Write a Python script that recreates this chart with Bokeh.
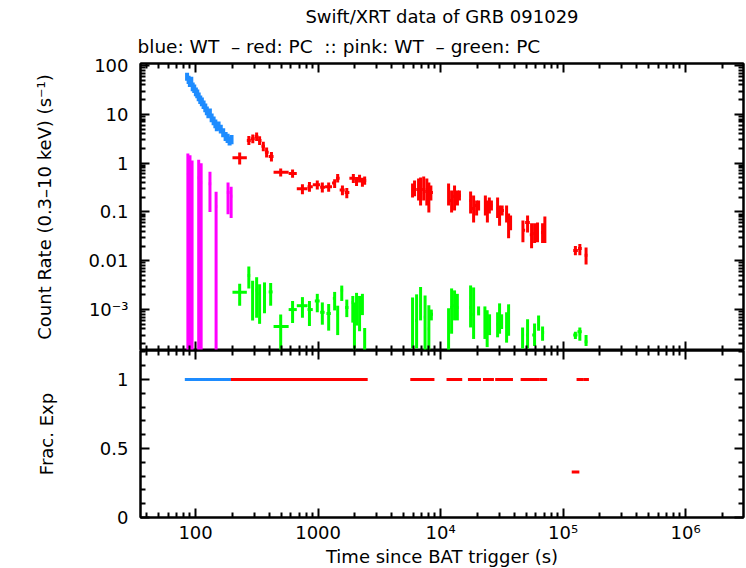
from bokeh.plotting import figure
from bokeh.models import (ColumnDataSource, Range1d, LogAxis, LinearAxis, Title,
                          CustomJSTickFormatter, FixedTicker)
from bokeh.layouts import column
from bokeh.embed import file_html
from bokeh.resources import INLINE

FONT = "DejaVu Sans"
FS = "18px"

# ---------------- WT mode (blue): bin start, bin stop, time, rate, rate error
wt_start = [84, 86.5, 88.5, 91, 93.5, 96, 99, 102, 104.5, 107.5, 111, 114, 118.5, 121.5,
            125.5, 129, 132.5, 138, 143, 147, 151, 157, 164, 172.5, 179, 186, 193]
wt_stop = [86.5, 88.5, 91, 93.5, 96, 99, 102, 104.5, 107.5, 111, 114, 118.5, 121.5, 125.5,
           129, 132.5, 138, 143, 147, 151, 157, 164, 172.5, 179, 186, 193, 200]
wt_time = [85.2, 87.7, 89.8, 92.2, 94.7, 97.5, 100.5, 103.2, 106.0, 109.2, 112.5, 116.2,
           120.0, 123.5, 127.2, 130.8, 135.2, 140.3, 145.0, 149.0, 154.0, 160.5, 168.0,
           175.8, 182.5, 189.5, 196.5]
wt_rate = [59.8, 51.9, 45.1, 49.5, 37.3, 34.0, 29.5, 26.8, 23.3, 20.2, 18.4, 16.0, 13.8,
           12.0, 10.4, 10.9, 8.6, 7.5, 6.5, 5.65, 5.9, 5.1, 4.3, 3.6, 3.3, 2.9, 3.1]
wt_err = [11.0, 10.0, 9.0, 9.5, 7.5, 6.8, 6.0, 5.4, 4.7, 4.0, 3.7, 3.2, 2.8, 2.4, 2.1, 2.2,
          1.75, 1.5, 1.3, 1.15, 1.2, 1.05, 0.9, 0.75, 0.7, 0.6, 0.65]
wt_frac = [1.0] * 27

# ---------------- WT mode, second band (pink)
pk_start = [85, 88.5, 92, 104, 109, 128, 144, 180, 191]
pk_stop = [88.5, 92, 95, 108, 113, 134, 150, 189, 199]
pk_time = [86.5, 90.0, 93.6, 106.0, 111.0, 131.0, 147.0, 184.0, 195.0]
pk_rate = [0.60, 0.50, 0.56, 0.50, 0.40, 0.38, 0.13, 0.25, 0.21]
pk_low = [0.0, 0.0, 0.0, 0.0, 0.0, 0.10, 0.0, 0.09, 0.075]
pk_high = [1.58, 1.45, 1.13, 1.17, 1.00, 0.67, 0.26, 0.40, 0.33]

# ---------------- PC mode (red): bin start, stop, time, rate, lower, upper, fractional exposure
pc_start = [200, 262, 282, 304, 325, 345, 368, 395, 433, 575, 670, 820, 905, 1040, 1140,
            1300, 1400, 1500, 1650, 1800, 2000, 2120, 2240, 2350,
            5820, 6020, 6370, 6740, 7070, 7500, 7870, 8170,
            11500, 11950, 12650, 13350, 14000,
            17200, 18000, 19100, 20000,
            22800, 23650, 24550, 25500,
            28700, 29750, 30900,
            34000, 35200, 36500,
            46300, 49000, 53500, 57000, 60500, 66000, 69500,
            121000, 132500, 150000]
pc_stop = [262, 282, 304, 325, 345, 368, 395, 433, 575, 670, 820, 905, 1040, 1140, 1300,
           1400, 1500, 1650, 1800, 2000, 2120, 2240, 2350, 2470,
           6020, 6370, 6740, 7070, 7500, 7870, 8170, 8660,
           11950, 12650, 13350, 14000, 14600,
           18000, 19100, 20000, 20800,
           23650, 24550, 25500, 26500,
           29750, 30900, 32900,
           35200, 36500, 37900,
           49000, 53500, 56000, 60500, 62700, 69500, 72000,
           132000, 142000, 158000]
pc_time = [229, 272, 293, 315, 333, 357, 380, 416, 495, 619, 745, 850, 985, 1083, 1220,
           1365, 1445, 1580, 1715, 1940, 2060, 2180, 2300, 2400,
           5904, 6131, 6610, 6865, 7280, 7720, 8020, 8330,
           11620, 12300, 13000, 13730, 14250,
           17580, 18600, 19680, 20430,
           23200, 24100, 25000, 26000,
           29200, 30300, 31800,
           34580, 35900, 37270,
           47000, 51300, 55300, 58500, 61800, 68000, 71000,
           126000, 137000, 154000]
pc_rate = [1.29, 2.92, 3.16, 3.52, 2.92, 2.23, 1.68, 1.37, 0.65, 0.61, 0.30, 0.33, 0.36,
           0.32, 0.33, 0.39, 0.49, 0.28, 0.25, 0.49, 0.43, 0.49, 0.41, 0.44,
           0.275, 0.289, 0.289, 0.251, 0.289, 0.263, 0.198, 0.251,
           0.228, 0.172, 0.208, 0.198, 0.218,
           0.172, 0.118, 0.136, 0.136,
           0.149, 0.107, 0.136, 0.136,
           0.118, 0.093, 0.107,
           0.093, 0.061, 0.061,
           0.042, 0.061, 0.034, 0.036, 0.038, 0.038, 0.046,
           0.0162, 0.0178, 0.0129]
pc_low = [0.94, 2.35, 2.55, 2.85, 2.35, 1.75, 1.30, 1.08, 0.53, 0.50, 0.23, 0.26, 0.29,
          0.25, 0.26, 0.31, 0.40, 0.22, 0.19, 0.39, 0.34, 0.40, 0.33, 0.36,
          0.198, 0.209, 0.172, 0.136, 0.172, 0.136, 0.098, 0.172,
          0.136, 0.098, 0.107, 0.136, 0.172,
          0.093, 0.061, 0.085, 0.107,
          0.085, 0.061, 0.093, 0.107,
          0.075, 0.052, 0.085,
          0.061, 0.029, 0.042,
          0.024, 0.038, 0.018, 0.023, 0.024, 0.023, 0.023,
          0.0130, 0.0130, 0.0084]
pc_high = [1.66, 3.60, 3.85, 4.25, 3.55, 2.75, 2.10, 1.70, 0.78, 0.74, 0.37, 0.41, 0.44,
           0.40, 0.40, 0.47, 0.60, 0.35, 0.31, 0.60, 0.52, 0.58, 0.50, 0.53,
           0.383, 0.44, 0.486, 0.509, 0.534, 0.486, 0.40, 0.349,
           0.383, 0.275, 0.349, 0.275, 0.275,
           0.263, 0.218, 0.172, 0.172,
           0.218, 0.172, 0.198, 0.172,
           0.198, 0.136, 0.136,
           0.136, 0.093, 0.085,
           0.067, 0.085, 0.059, 0.059, 0.061, 0.059, 0.081,
           0.0200, 0.0220, 0.0186]
pc_frac = [1.0] * 58 + [0.33, 1.0, 1.0]

# ---------------- PC mode, second band (green)
gr_start = [200, 266, 287, 309, 327, 355, 395, 433, 575, 670, 820, 940, 1040, 1170, 1320,
            1420, 1530, 1660, 1880, 1960, 2030, 2150, 2270, 2370,
            5820, 6200, 6740, 7300, 7870, 8170,
            11500, 12000, 12700, 13400,
            17200, 18200, 20000,
            22800, 23700, 24800,
            28700, 29800, 31000,
            34000, 35400,
            46300, 50000, 56000, 62000, 67000,
            121000, 131000, 150000]
gr_stop = [262, 279, 298, 321, 340, 376, 425, 575, 670, 820, 905, 1030, 1130, 1270, 1400,
           1470, 1600, 1770, 1960, 2000, 2090, 2210, 2330, 2430,
           6020, 6500, 7000, 7600, 8170, 8660,
           11800, 12600, 13300, 14000,
           18000, 19000, 20800,
           23300, 24300, 25400,
           29700, 30800, 32000,
           35200, 36500,
           48000, 52500, 60000, 64000, 70000,
           131000, 142000, 158000]
gr_time = [229, 272, 292, 315, 333, 365, 410, 495, 619, 745, 850, 985, 1083, 1220, 1365,
           1445, 1560, 1715, 1920, 1980, 2060, 2180, 2300, 2400,
           5904, 6370, 6865, 7470, 8020, 8400,
           11620, 12300, 13000, 13700,
           17580, 18600, 20430,
           23000, 24000, 25100,
           29200, 30300, 31500,
           34580, 35900,
           46700, 51300, 58500, 63100, 68000,
           126000, 137000, 154000]
gr_rate = [0.00227, 0.0050, 0.0023, 0.0025, 0.0021, 0.0022, 0.0023, 0.00045, 0.0010,
           0.0012, 0.0010, 0.0015, 0.00088, 0.00083, 0.0017, 0.00077, 0.0025, 0.0011,
           0.0014, 0.00054, 0.0013, 0.0011, 0.0014, 0.00021,
           0.00055, 0.0006, 0.0012, 0.0007, 0.0004, 0.0008,
           0.0004, 0.0011, 0.0012, 0.0011,
           0.0011, 0.0008, 0.0009,
           0.0006, 0.0004, 0.0005,
           0.0005, 0.0007, 0.0006,
           0.00045, 0.0007,
           0.0003, 0.0003, 0.0003, 0.0005, 0.00034,
           0.0003, 0.00035, 0.00022]
gr_low = [0.0012, 0.0027, 0.0006, 0.00068, 0.00051, 0.00084, 0.0012, 0.0, 0.00053,
          0.00068, 0.00046, 0.00088, 0.00049, 0.00037, 0.00096, 0.0003, 0.0015, 0.0007,
          0.00054, 0.0, 0.00047, 0.00036, 0.00077, 0.0,
          0.00016, 0.00016, 0.0006, 0.0, 0.0, 0.0006,
          0.0, 0.00032, 0.0006, 0.0006,
          0.00043, 0.00025, 0.00076,
          0.00025, 0.00017, 0.0003,
          0.00027, 0.00032, 0.0004,
          0.00021, 0.00029,
          0.00016, 0.00016, 0.00018, 0.00037, 0.00023,
          0.00025, 0.00023, 0.00018]
gr_high = [0.0034, 0.0076, 0.0039, 0.0046, 0.0033, 0.0036, 0.0035, 0.00079, 0.0015,
           0.0018, 0.0015, 0.0021, 0.0014, 0.0013, 0.0023, 0.0012, 0.0031, 0.0016,
           0.0019, 0.0014, 0.0022, 0.0019, 0.0021, 0.00042,
           0.00177, 0.00205, 0.0029, 0.00195, 0.00122, 0.0010,
           0.00106, 0.00271, 0.00247, 0.0021,
           0.00312, 0.00284, 0.00116,
           0.00116, 0.00097, 0.0008,
           0.00088, 0.00134, 0.0008,
           0.00088, 0.00128,
           0.00043, 0.00063, 0.00052, 0.00076, 0.00045,
           0.00035, 0.00043, 0.0003]

# ---------------- axis ticks
x_major = [100, 1000, 1e4, 1e5, 1e6]
x_minor = [m * 10 ** e for e in range(1, 7) for m in range(2, 10)]
y_major = [1e-3, 1e-2, 0.1, 1, 10, 100]
y_minor = [m * 10 ** e for e in range(-4, 3) for m in range(2, 10)]
f_major = [0, 0.5, 1]
f_minor = [0.1, 0.2, 0.3, 0.4, 0.6, 0.7, 0.8, 0.9, 1.1, 1.2]

X_LO, X_HI = 35.5, 2.97e6
TINY = 1e-9

x_fmt = CustomJSTickFormatter(code="""
const e = Math.round(Math.log10(tick));
if (e <= 3) { return String(Math.round(tick)); }
const sup = {4: '\\u2074', 5: '\\u2075', 6: '\\u2076'};
return '10' + sup[e];
""")
y_fmt = CustomJSTickFormatter(code="""
const e = Math.round(Math.log10(tick));
if (e >= 0) { return String(Math.round(tick)); }
if (e >= -2) { return tick.toFixed(-e); }
const sup = {3: '\\u00b3', 4: '\\u2074'};
return '10\\u207b' + sup[-e];
""")
blank_fmt = CustomJSTickFormatter(code="return '';")


def style_axis(ax, show_labels):
    ax.axis_line_width = 2
    ax.axis_line_color = "black"
    ax.major_tick_in = 9
    ax.major_tick_out = 0
    ax.minor_tick_in = 5
    ax.minor_tick_out = 0
    ax.major_tick_line_width = 2
    ax.minor_tick_line_width = 2
    ax.major_label_text_font = FONT
    ax.major_label_text_font_size = FS
    ax.major_label_text_color = "black"
    ax.axis_label_text_font = FONT
    ax.axis_label_text_font_size = FS
    ax.axis_label_text_font_style = "normal"
    ax.axis_label_text_color = "black"
    if not show_labels:
        ax.formatter = blank_fmt
        ax.major_label_text_font_size = "0px"
        ax.major_label_standoff = 0


def errbars(p, start, stop, time, rate, low, high, color, width=3):
    src = ColumnDataSource(dict(
        t0=start, t1=stop, t=time, r=rate,
        r0=[max(v, TINY) for v in low], r1=high))
    p.segment(x0="t0", y0="r", x1="t1", y1="r", source=src,
              line_color=color, line_width=width)
    p.segment(x0="t", y0="r0", x1="t", y1="r1", source=src,
              line_color=color, line_width=width)


x_range = Range1d(X_LO, X_HI)

# ---------------- light curve panel
top = figure(x_axis_type="log", y_axis_type="log", x_range=x_range,
             y_range=Range1d(1.45e-4, 110), x_axis_location=None,
             frame_width=603, frame_height=287,
             min_border_left=140, min_border_right=3, min_border_top=63,
             min_border_bottom=0, output_backend="svg", toolbar_location=None,
             background_fill_color="white", border_fill_color="white")
top.grid.visible = False
top.outline_line_color = "black"
top.outline_line_width = 2

ly = top.yaxis[0]
ly.ticker = FixedTicker(ticks=y_major, minor_ticks=y_minor)
ly.formatter = y_fmt
style_axis(ly, True)
ly.major_label_standoff = 12
ly.axis_label = "Count Rate (0.3\u201310 keV) (s\u207b\u00b9)"
ly.axis_label_standoff = 30

for loc in ("above", "below"):
    ax = LogAxis(ticker=FixedTicker(ticks=x_major, minor_ticks=x_minor))
    style_axis(ax, False)
    top.add_layout(ax, loc)
ry = LogAxis(ticker=FixedTicker(ticks=y_major, minor_ticks=y_minor))
style_axis(ry, False)
top.add_layout(ry, "right")

errbars(top, pk_start, pk_stop, pk_time, pk_rate, pk_low, pk_high, "#ff00ff")
errbars(top, gr_start, gr_stop, gr_time, gr_rate, gr_low, gr_high, "#00ff00")
errbars(top, wt_start, wt_stop, wt_time, wt_rate,
        [r - e for r, e in zip(wt_rate, wt_err)],
        [r + e for r, e in zip(wt_rate, wt_err)], "#1e8cff", width=4)
errbars(top, pc_start, pc_stop, pc_time, pc_rate, pc_low, pc_high, "#ff0000")

top.add_layout(Title(text="blue: WT\u00a0 \u2013 red: PC\u00a0 :: pink: WT\u00a0 \u2013 green: PC",
                     align="left", text_font=FONT, text_font_size="18.5px",
                     text_font_style="normal", text_color="black",
                     standoff=14, offset=-3), "above")
top.add_layout(Title(text="Swift/XRT data of GRB 091029", align="center",
                     text_font=FONT, text_font_size=FS, text_font_style="normal",
                     text_color="black", standoff=0, offset=-6), "above")

# ---------------- fractional exposure panel
bot = figure(x_axis_type="log", x_range=x_range, y_range=Range1d(0, 1.21),
             frame_width=603, frame_height=167,
             min_border_left=140, min_border_right=3, min_border_top=0,
             min_border_bottom=0, output_backend="svg", toolbar_location=None,
             background_fill_color="white", border_fill_color="white")
bot.grid.visible = False
bot.outline_line_color = "black"
bot.outline_line_width = 2

bx = bot.xaxis[0]
bx.ticker = FixedTicker(ticks=x_major, minor_ticks=x_minor)
bx.formatter = x_fmt
style_axis(bx, True)
bx.major_label_standoff = 4
bx.axis_label = "Time since BAT trigger (s)"
bx.axis_label_standoff = 0

by = bot.yaxis[0]
by.ticker = FixedTicker(ticks=f_major, minor_ticks=f_minor)
by.formatter = CustomJSTickFormatter(code="return tick == 0.5 ? '0.5' : String(Math.round(tick));")
style_axis(by, True)
by.major_label_standoff = 12
by.axis_label = "Frac. Exp"
by.axis_label_standoff = 40

ax = LogAxis(ticker=FixedTicker(ticks=x_major, minor_ticks=x_minor))
style_axis(ax, False)
bot.add_layout(ax, "above")
ry2 = LinearAxis(ticker=FixedTicker(ticks=f_major, minor_ticks=f_minor))
style_axis(ry2, False)
bot.add_layout(ry2, "right")

# exposure bars; square caps close the seams between adjacent bins
wt_src = ColumnDataSource(dict(t0=wt_start, t1=wt_stop, f=wt_frac))
bot.segment(x0="t0", y0="f", x1="t1", y1="f", source=wt_src,
            line_color="#1e8cff", line_width=3, line_cap="square")
pc_src = ColumnDataSource(dict(t0=pc_start, t1=pc_stop, f=pc_frac))
bot.segment(x0="t0", y0="f", x1="t1", y1="f", source=pc_src,
            line_color="#ff0000", line_width=3, line_cap="square")

p = column(top, bot, spacing=0)
open("out.html", "w", encoding="utf-8").write(file_html(p, INLINE))
